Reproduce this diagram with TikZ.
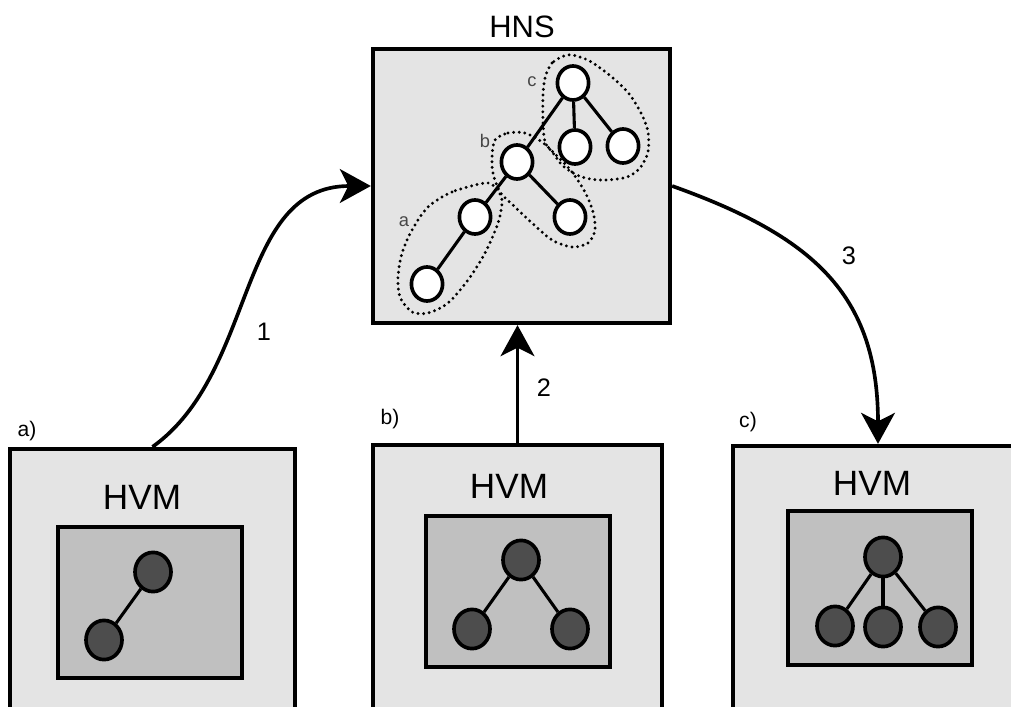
\documentclass[tikz,border=0pt]{standalone}
\usepackage{fontspec}
\setmainfont{Liberation Sans}
\usetikzlibrary{arrows.meta,shapes.geometric}
\definecolor{boxgray}{RGB}{228,228,228}
\definecolor{innergray}{RGB}{192,192,192}
\definecolor{nodedark}{RGB}{77,77,77}
\definecolor{labgray}{RGB}{70,70,70}
\begin{document}
\begin{tikzpicture}[x=0.025cm,y=-0.025cm,
  outerbox/.style={draw=black, fill=boxgray, line width=3pt, rectangle, inner sep=0pt},
  innerbox/.style={draw=black, fill=innergray, line width=3pt, rectangle, inner sep=0pt, minimum width=4.6cm},
  wnode/.style={ellipse, draw=black, fill=white, line width=2.6pt, minimum width=0.78cm, minimum height=0.85cm, inner sep=0pt},
  dnode/.style={ellipse, draw=black, fill=nodedark, line width=2.6pt, minimum width=0.9cm, minimum height=0.98cm, inner sep=0pt},
  tline/.style={line width=2.2pt},
  conn/.style={line width=2.6pt, -{Stealth[length=22pt,width=24pt,inset=6pt]}},
  grp/.style={line width=2.3pt, dash pattern=on 0pt off 4pt, line cap=round},
  bigtxt/.style={font=\fontsize{25}{30}\selectfont, inner sep=0pt},
  numtxt/.style={font=\fontsize{18}{22}\selectfont, inner sep=0pt},
  captxt/.style={font=\fontsize{15}{18}\selectfont, inner sep=0pt},
  smalltxt/.style={font=\fontsize{13}{16}\selectfont, text=labgray, inner sep=0pt}
]
\useasboundingbox (0,0) rectangle (1011,707);
\clip (0,0) rectangle (1011,707);
\fill[white] (0,0) rectangle (1011,707);

% ---------- HNS ----------
\node[outerbox, minimum width=7.425cm, minimum height=6.85cm] (hns) at (521.5,186) {};
\node[font=\fontsize{22}{26}\selectfont, inner sep=0pt] (hnst) at (522,27) {HNS};

\node[wnode] (c0) at (573,83) {};
\node[wnode] (c1) at (575,147) {};
\node[wnode] (c2) at (623,146) {};
\node[wnode] (b0) at (517,162) {};
\node[wnode] (b1) at (570,217) {};
\node[wnode] (a0) at (475,217) {};
\node[wnode] (a1) at (427,284) {};
\draw[tline] (a1) -- (a0);
\draw[tline] (a0) -- (b0);
\draw[tline] (b0) -- (b1);
\draw[tline] (b0) -- (c0);
\draw[tline] (c0) -- (c1);
\draw[tline] (c0) -- (c2);

% dotted groups
\draw[grp] plot[smooth cycle] coordinates {(485,183) (452,192) (428,207) (412,230) (402,253) (398,277) (400,297) (412,312) (428,313) (448,303) (468,280) (485,253) (498,223) (502,200) (495,187)};
\draw[grp] plot[smooth cycle] coordinates {(495,140) (508,133) (525,133) (542,142) (558,157) (572,172) (585,192) (593,212) (595,230) (588,243) (572,247) (552,240) (532,223) (515,207) (500,192) (493,173) (492,157)};
\draw[grp] plot[smooth cycle] coordinates {(567,55) (552,63) (545,78) (543,95) (543,122) (545,142) (553,153) (563,166) (577,175) (590,179) (607,180) (627,177) (640,168) (648,152) (648,132) (642,115) (630,95) (613,78) (593,63) (580,57)};

\node[smalltxt] (la) at (404,222) {a};
\node[smalltxt] (lb) at (485,141) {b};
\node[smalltxt] (lc) at (532,82) {c};

% ---------- box a ----------
\node[outerbox, minimum width=7.125cm, minimum height=6.775cm] (boxA) at (152.5,584.5) {};
\node[bigtxt] (hvmA) at (142,497) {HVM};
\node[innerbox, minimum height=3.775cm] (inA) at (150,602.5) {};
\node[dnode] (A0) at (153,572) {};
\node[dnode] (A1) at (104,640) {};
\draw[tline] (A1) -- (A0);
\node[captxt] (capA) at (27,431) {a)};

% ---------- box b ----------
\node[outerbox, minimum width=7.225cm, minimum height=6.875cm] (boxB) at (517.5,582.5) {};
\node[bigtxt] (hvmB) at (509,486) {HVM};
\node[innerbox, minimum height=3.775cm] (inB) at (518,591.5) {};
\node[dnode] (B0) at (521,560) {};
\node[dnode] (B1) at (472,629) {};
\node[dnode] (B2) at (570,629) {};
\draw[tline] (B0) -- (B1);
\draw[tline] (B0) -- (B2);
\node[captxt] (capB) at (390,419) {b)};

% ---------- box c ----------
\node[outerbox, minimum width=7.25cm, minimum height=6.85cm] (boxC) at (878,583) {};
\node[bigtxt] (hvmC) at (872,483) {HVM};
\node[innerbox, minimum height=3.85cm] (inC) at (880,588) {};
\node[dnode] (C0) at (883,557) {};
\node[dnode] (C1) at (835,626) {};
\node[dnode] (C2) at (883,627) {};
\node[dnode] (C3) at (938,627) {};
\draw[tline] (C0) -- (C1);
\draw[tline] (C0) -- (C2);
\draw[tline] (C0) -- (C3);
\node[captxt] (capC) at (748,422) {c)};

% ---------- connectors ----------
\draw[conn] (boxA.north) .. controls +(105,-75) and +(-135,0) .. (hns.west);
\draw[conn] (boxB.north) -- (boxB.north |- hns.south);
\draw[conn] (hns.east) .. controls +(140,50) and +(0,-150) .. (boxC.north);
\node[numtxt] (n1) at (264,332) {1};
\node[numtxt] (n2) at (544,388) {2};
\node[numtxt] (n3) at (849,256) {3};
\end{tikzpicture}
\end{document}
